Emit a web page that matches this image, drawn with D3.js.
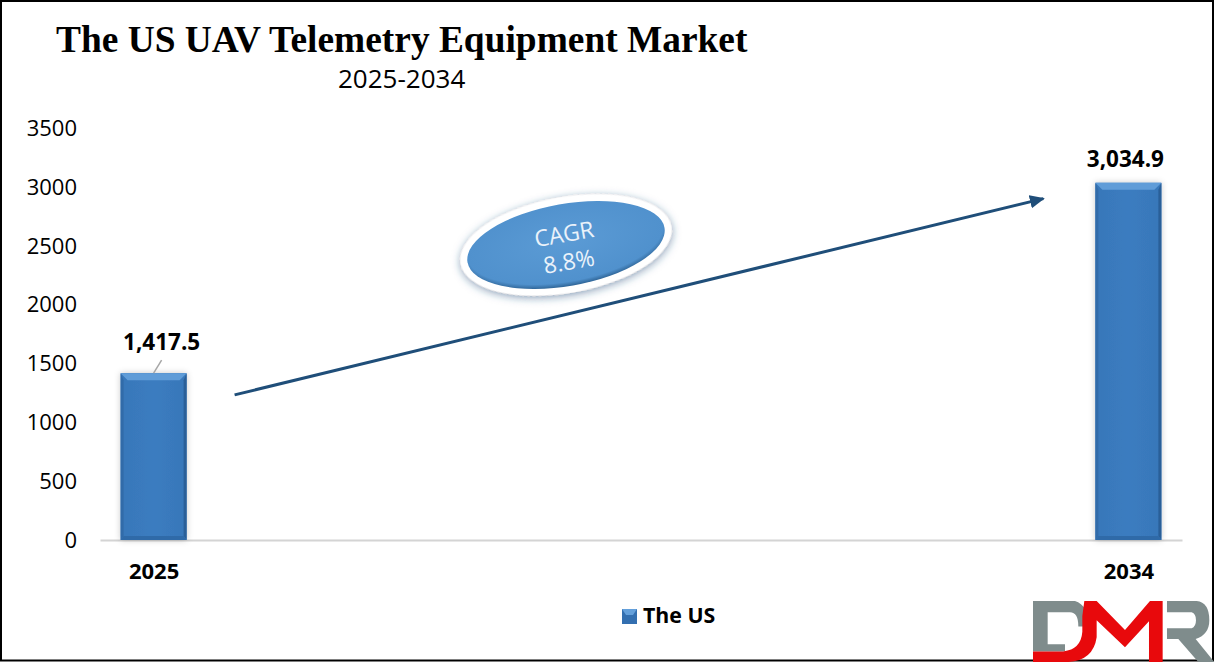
<!DOCTYPE html>
<html>
<head>
<meta charset="utf-8">
<script src="https://cdn.jsdelivr.net/npm/d3@7"></script>
<style>
  html, body { margin: 0; padding: 0; background: #fff; overflow: hidden; }
  svg { display: block; }
  text { font-family: "Open Sans", sans-serif; fill: #000; }
</style>
</head>
<body>
<script>
const years = ["2025", "2034"];
const values = [1417.5, 3034.9];
const valueLabels = ["1,417.5", "3,034.9"];
const labelShift = [8, -3]; // the labels don't sit quite centred over the bars
const yTicks = [0, 500, 1000, 1500, 2000, 2500, 3000, 3500];
const arrowValues = [1233, 2900]; // where the CAGR arrow starts and ends on the y axis
const titleText = "The US UAV Telemetry Equipment Market";
const subtitleText = "2025-2034";
const legendText = "The US";
const cagrLines = ["CAGR", "8.8%"];

const width = 1216, height = 663;
const barWidth = 66, bevelTop = 7, bevelSide = 3;

const svg = d3.select("body").append("svg")
    .attr("width", width)
    .attr("height", height);

const defs = svg.append("defs");

const barGrad = defs.append("linearGradient").attr("id", "barGrad")
    .attr("x1", 0).attr("x2", 1).attr("y1", 0).attr("y2", 0);
barGrad.append("stop").attr("offset", "0%").attr("stop-color", "#3877b9");
barGrad.append("stop").attr("offset", "50%").attr("stop-color", "#3b7cc0");
barGrad.append("stop").attr("offset", "100%").attr("stop-color", "#3877b9");

const barShadow = defs.append("filter").attr("id", "barShadow")
    .attr("x", "-30%").attr("y", "-5%").attr("width", "160%").attr("height", "110%");
barShadow.append("feDropShadow").attr("dx", 0).attr("dy", 0)
    .attr("stdDeviation", 3).attr("flood-color", "#000").attr("flood-opacity", 0.22);

const ovalShadow = defs.append("filter").attr("id", "ovalShadow")
    .attr("x", "-20%").attr("y", "-30%").attr("width", "140%").attr("height", "160%");
ovalShadow.append("feDropShadow").attr("dx", 0).attr("dy", 2)
    .attr("stdDeviation", 4).attr("flood-color", "#1f4e79").attr("flood-opacity", 0.55);

const ovalGrad = defs.append("radialGradient").attr("id", "ovalGrad")
    .attr("cx", "50%").attr("cy", "45%").attr("r", "55%");
ovalGrad.append("stop").attr("offset", "0%").attr("stop-color", "#5b9bd5");
ovalGrad.append("stop").attr("offset", "90%").attr("stop-color", "#5091cd");
ovalGrad.append("stop").attr("offset", "100%").attr("stop-color", "#2f6597");

defs.append("marker").attr("id", "arrowHead")
    .attr("viewBox", "0 0 10 10").attr("refX", 9).attr("refY", 5)
    .attr("markerWidth", 5).attr("markerHeight", 5)
    .attr("markerUnits", "strokeWidth").attr("orient", "auto")
  .append("path").attr("d", "M0,0.5L10,5L0,9.5Z").attr("fill", "#1f4e79");

// scales
const x = d3.scalePoint().domain(years).range([100, 1182]).padding(0.055);
const y = d3.scaleLinear().domain([0, 3500]).range([540, 128]);

// frame goes under everything, the logo sits on top of it
svg.append("rect")
    .attr("x", 1).attr("y", 1)
    .attr("width", 1212).attr("height", 659.5)
    .attr("fill", "none").attr("stroke", "#000").attr("stroke-width", 2);

// axes
const yAxis = svg.append("g")
    .attr("transform", "translate(87,0.3)")
    .call(d3.axisLeft(y).tickValues(yTicks).tickSize(0).tickPadding(10).tickFormat(d3.format("d")));
yAxis.select(".domain").remove();
yAxis.selectAll("text").style("font-size", "22px").style("font-family", '"Open Sans", sans-serif');

const xAxis = svg.append("g")
    .attr("transform", "translate(0,540)")
    .call(d3.axisBottom(x).tickSize(0).tickPadding(23));
xAxis.select(".domain").attr("stroke", "#d4d4d4").attr("stroke-width", 2);
xAxis.selectAll("text")
    .style("font-size", "22px").style("font-weight", 700)
    .style("font-family", '"Open Sans", sans-serif');

// bars, each with a bevelled edge
const bar = svg.append("g").selectAll("g")
    .data(years.map((year, i) => ({year, value: values[i], label: valueLabels[i], shift: labelShift[i]})))
    .join("g")
    .attr("transform", d => `translate(${x(d.year) - barWidth / 2},${y(d.value)})`);

const barH = d => y(0) - y(d.value);

bar.append("rect")
    .attr("width", barWidth)
    .attr("height", barH)
    .attr("fill", "url(#barGrad)")
    .attr("filter", "url(#barShadow)");

bar.append("path")
    .attr("d", d => `M0,0L${bevelSide},${bevelTop}V${barH(d) - 4}L0,${barH(d)}Z`)
    .attr("fill", "#316ba9");
bar.append("path")
    .attr("d", d => `M${barWidth},0L${barWidth - bevelSide},${bevelTop}V${barH(d) - 4}L${barWidth},${barH(d)}Z`)
    .attr("fill", "#2a5f98");
bar.append("path")
    .attr("d", d => `M0,${barH(d)}L${bevelSide},${barH(d) - 4}H${barWidth - bevelSide}L${barWidth},${barH(d)}Z`)
    .attr("fill", "#2f6aa8");
bar.append("path")
    .attr("d", `M0,0H${barWidth}L${barWidth - 7},${bevelTop}H7Z`)
    .attr("fill", "#5f9cd8");

bar.append("text")
    .attr("x", d => barWidth / 2 + d.shift)
    .attr("y", (d, i) => i === 0 ? -23 : -16)
    .attr("text-anchor", "middle")
    .style("font-size", "22.5px").style("font-weight", 700)
    .text(d => d.label);

// leader line for the first label only
bar.filter((d, i) => i === 0).append("line")
    .attr("x1", barWidth / 2).attr("y1", 0)
    .attr("x2", barWidth / 2 + 8).attr("y2", -13)
    .attr("stroke", "#a6a6a6").attr("stroke-width", 1.5);

// CAGR arrow
svg.append("line")
    .attr("x1", x(years[0]) + 81).attr("y1", y(arrowValues[0]))
    .attr("x2", x(years[1]) - 85).attr("y2", y(arrowValues[1]))
    .attr("stroke", "#1f4e79").attr("stroke-width", 3)
    .attr("marker-end", "url(#arrowHead)");

// CAGR oval
const oval = svg.append("g").attr("transform", "translate(566,245) rotate(-10)");
oval.append("ellipse")
    .attr("rx", 107).attr("ry", 48)
    .attr("fill", "#fff")
    .attr("filter", "url(#ovalShadow)");
oval.append("ellipse")
    .attr("rx", 100).attr("ry", 41)
    .attr("fill", "url(#ovalGrad)");
oval.selectAll("text").data(cagrLines).join("text")
    .attr("text-anchor", "middle")
    .attr("y", (d, i) => -3 + i * 28)
    .style("font-size", "23px")
    .style("fill", "#eaf2fa")
    .text(d => d);

// titles
svg.append("text")
    .attr("x", 56).attr("y", 52)
    .style("font-family", '"Liberation Serif", serif')
    .style("font-size", "37.4px").style("font-weight", 700)
    .text(titleText);
svg.append("text")
    .attr("x", 338).attr("y", 88)
    .style("font-size", "26px")
    .text(subtitleText);

// legend
svg.append("rect")
    .attr("x", 622).attr("y", 609).attr("width", 15).attr("height", 15)
    .attr("fill", "#336fb0");
svg.append("path")
    .attr("d", "M622,609H637L633,615H626Z")
    .attr("fill", "#64a0db");
svg.append("text")
    .attr("x", 643).attr("y", 623)
    .style("font-size", "21.3px").style("font-weight", 700)
    .text(legendText);

const logo = svg.append("g").attr("transform", "translate(1025,594.6) scale(0.3333,0.355)");
logo.append("path").attr("fill", "#7f8c8c")
    .attr("d", "M24,18H150Q190,30 196,90H160Q160,50 135,50H68V140H120V160H24Z");
logo.append("path").attr("fill", "#7f8c8c")
    .attr("d", "M426,18H515Q553,22 553,72Q553,112 512,125L568,190H520L460,125H426V95H500Q513,90 513,72Q513,54 500,50H426Z");
logo.append("path").attr("fill", "#e8090c")
    .attr("d", "M24,160H115Q168,155 172,105V60L178,18H215L300,100L375,18H413V190H372V75L300,148L215,72V120Q205,185 130,190H24Z");
</script>
</body>
</html>
